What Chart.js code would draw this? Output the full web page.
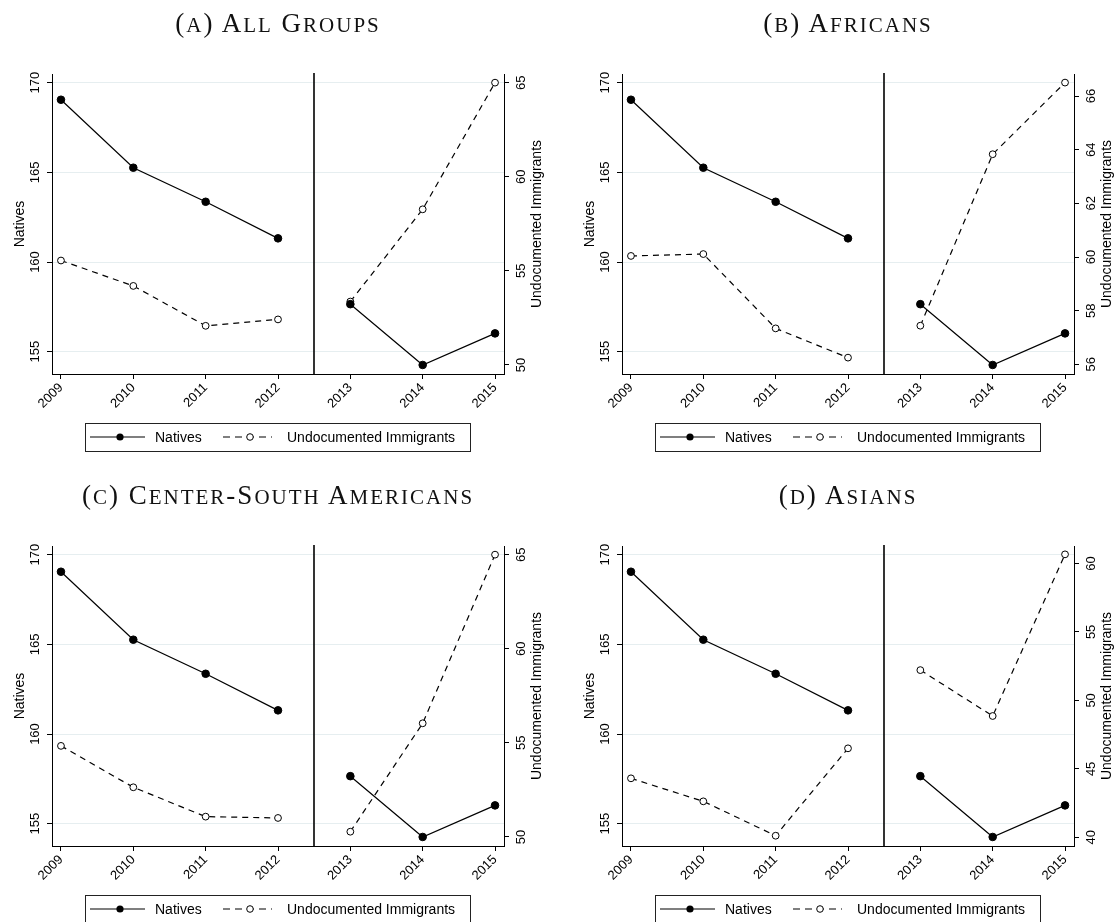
<!DOCTYPE html>
<html><head><meta charset="utf-8">
<script src="https://cdn.jsdelivr.net/npm/chart.js@4.4.1/dist/chart.umd.min.js"></script>
<style>
html,body{margin:0;padding:0;background:#fff;width:1115px;height:922px;overflow:hidden;}
.panel{position:absolute;width:550px;height:460px;}
.panel canvas{position:absolute;left:0;top:0;}
.title{position:absolute;top:10px;left:0;width:556px;text-align:center;font-family:"Liberation Serif","Times New Roman",serif;font-size:27px;line-height:27px;letter-spacing:2px;color:#111;white-space:nowrap;}
.title .sc{font-size:21px;}
</style></head><body>
<div class="panel" id="pA" style="left:0;top:0"></div>
<div class="panel" id="pB" style="left:570px;top:0"></div>
<div class="panel" id="pC" style="left:0;top:472px"></div>
<div class="panel" id="pD" style="left:570px;top:472px"></div>
<script>
// ---- data ----
const years = [2009, 2010, 2011, 2012, 2013, 2014, 2015];
const natives = [169.05, 165.26, 163.36, 161.32, 157.65, 154.26, 156.02];
const undocAll = [55.55, 54.20, 52.08, 52.42, 53.37, 58.27, 65.00];
const undocAfricans = [60.04, 60.11, 57.34, 56.25, 57.44, 63.83, 66.50];
const undocCenterSouth = [54.84, 52.64, 51.08, 51.01, 50.28, 56.04, 65.00];
const undocAsians = [44.31, 42.63, 40.12, 46.50, 52.21, 48.86, 60.66];
const nativesTicks = [155, 160, 165, 170];
const ticksAll = [50, 55, 60, 65];
const ticksAfricans = [56, 58, 60, 62, 64, 66];
const ticksCenterSouth = [50, 55, 60, 65];
const ticksAsians = [40, 45, 50, 55, 60];
const titles = ["(a) All Groups", "(b) Africans", "(c) Center-South Americans", "(d) Asians"];
const leftTitle = "Natives";
const rightTitle = "Undocumented Immigrants";
const breakYear = 2012.5;

// ---- layout ----
const W = 550, H = 460;
const AREA = {left: 52, right: 504, top: 74, bottom: 374};
const xRange = [2008.876, 2015.124];
const nativesRange = [153.756, 170.485];
const SANS = '"Liberation Sans", Arial, sans-serif';

function buildTitle(el, txt) {
  const d = document.createElement('div');
  d.className = 'title';
  for (const ch of txt) {
    if (ch >= 'a' && ch <= 'z') {
      const s = document.createElement('span');
      s.className = 'sc';
      s.textContent = ch.toUpperCase();
      d.appendChild(s);
    } else {
      d.appendChild(document.createTextNode(ch));
    }
  }
  el.appendChild(d);
}

const decor = {
  id: 'decor',
  beforeDatasetsDraw(chart) {
    const {ctx, chartArea: a, scales: {x}} = chart;
    const px = Math.round(x.getPixelForValue(breakYear));
    ctx.save();
    ctx.strokeStyle = '#000'; ctx.lineWidth = 1.6;
    ctx.beginPath(); ctx.moveTo(px, a.top - 1); ctx.lineTo(px, a.bottom); ctx.stroke();
    ctx.restore();
  },
  afterDraw(chart) {
    const {ctx, chartArea: a, scales: {y, y1}} = chart;
    ctx.save();
    ctx.fillStyle = '#000';
    ctx.textAlign = 'center'; ctx.textBaseline = 'alphabetic';
    ctx.font = '13px ' + SANS;
    y.ticks.forEach(t => {
      const py = y.getPixelForValue(t.value);
      ctx.save(); ctx.translate(a.left - 13, py); ctx.rotate(-Math.PI / 2);
      ctx.fillText(String(t.value), 0, 0); ctx.restore();
    });
    y1.ticks.forEach(t => {
      const py = y1.getPixelForValue(t.value);
      ctx.save(); ctx.translate(a.right + 21, py); ctx.rotate(-Math.PI / 2);
      ctx.fillText(String(t.value), 0, 0); ctx.restore();
    });
    ctx.font = '14px ' + SANS;
    const cy = (a.top + a.bottom) / 2;
    ctx.save(); ctx.translate(a.left - 28, cy); ctx.rotate(-Math.PI / 2);
    ctx.fillText(leftTitle, 0, 0); ctx.restore();
    ctx.save(); ctx.translate(a.right + 37, cy); ctx.rotate(-Math.PI / 2);
    ctx.fillText(rightTitle, 0, 0); ctx.restore();

    // legend
    const cx = (a.left + a.right) / 2;
    const by0 = a.bottom + 49, by1 = a.bottom + 77, ly = a.bottom + 63;
    ctx.strokeStyle = '#222'; ctx.lineWidth = 1;
    ctx.strokeRect(Math.round(cx - 193) + 0.5, by0 + 0.5, 385, by1 - by0);
    ctx.strokeStyle = '#000'; ctx.lineWidth = 1.2;
    ctx.beginPath(); ctx.moveTo(cx - 188, ly); ctx.lineTo(cx - 133, ly); ctx.stroke();
    ctx.beginPath(); ctx.arc(cx - 158, ly, 3.6, 0, Math.PI * 2); ctx.fillStyle = '#000'; ctx.fill();
    ctx.setLineDash([7, 5]);
    ctx.beginPath(); ctx.moveTo(cx - 55, ly); ctx.lineTo(cx - 6, ly); ctx.stroke();
    ctx.setLineDash([]);
    ctx.lineWidth = 1;
    ctx.beginPath(); ctx.arc(cx - 28, ly, 3.3, 0, Math.PI * 2); ctx.fillStyle = '#fff'; ctx.fill(); ctx.stroke();
    ctx.fillStyle = '#000'; ctx.textAlign = 'left';
    ctx.font = '14px ' + SANS;
    ctx.fillText('Natives', cx - 123, ly + 5);
    ctx.fillText('Undocumented Immigrants', cx + 9, ly + 5);
    ctx.restore();
  }
};

function makePanel(id, title, undoc, rightRange, rightTicks) {
  const el = document.getElementById(id);
  const cv = document.createElement('canvas');
  cv.width = W; cv.height = H;
  cv.style.width = W + 'px'; cv.style.height = H + 'px';
  el.appendChild(cv);
  buildTitle(el, title);
  const gapSeg = c => c.p0DataIndex === 3 ? 'rgba(0,0,0,0)' : '#000';
  new Chart(cv, {
    type: 'line',
    data: {
      datasets: [
        {
          label: 'Natives', yAxisID: 'y',
          data: years.map((x, i) => ({x, y: natives[i]})),
          borderColor: '#000', borderWidth: 1.2, tension: 0, fill: false,
          pointRadius: 3.8, pointBackgroundColor: '#000', pointBorderColor: '#000', pointBorderWidth: 1,
          segment: {borderColor: gapSeg}
        },
        {
          label: 'Undocumented Immigrants', yAxisID: 'y1',
          data: years.map((x, i) => ({x, y: undoc[i]})),
          borderColor: '#000', borderWidth: 1.2, borderDash: [6, 5], tension: 0, fill: false,
          pointRadius: 3.4, pointBackgroundColor: '#fff', pointBorderColor: '#000', pointBorderWidth: 1,
          segment: {borderColor: gapSeg}
        }
      ]
    },
    options: {
      responsive: false, animation: false, devicePixelRatio: 1,
      layout: {padding: {top: AREA.top, left: 0, right: 0, bottom: 0}},
      plugins: {legend: {display: false}, tooltip: {enabled: false}, title: {display: false}},
      events: [],
      scales: {
        x: {
          type: 'linear', min: xRange[0], max: xRange[1],
          afterBuildTicks: s => { s.ticks = years.map(v => ({value: v})); },
          afterFit: s => { s.height = H - AREA.bottom; },
          grid: {drawOnChartArea: false, drawTicks: true, tickLength: 5, tickColor: '#000', tickWidth: 1},
          border: {display: true, color: '#000', width: 1},
          ticks: {autoSkip: false, minRotation: 45, maxRotation: 45, padding: 1, color: '#000',
                  font: {family: SANS, size: 13}, callback: v => String(v)}
        },
        y: {
          position: 'left', min: nativesRange[0], max: nativesRange[1],
          afterBuildTicks: s => { s.ticks = nativesTicks.map(v => ({value: v})); },
          afterFit: s => { s.width = AREA.left; },
          grid: {color: '#e6eef0', lineWidth: 1, drawTicks: true, tickLength: 5, tickColor: '#000', tickWidth: 1},
          border: {display: true, color: '#000', width: 1},
          ticks: {display: false}
        },
        y1: {
          position: 'right', min: rightRange[0], max: rightRange[1],
          afterBuildTicks: s => { s.ticks = rightTicks.map(v => ({value: v})); },
          afterFit: s => { s.width = W - AREA.right; },
          grid: {drawOnChartArea: false, drawTicks: true, tickLength: 5, tickColor: '#000', tickWidth: 1},
          border: {display: true, color: '#000', width: 1},
          ticks: {display: false}
        }
      }
    },
    plugins: [decor]
  });
}

makePanel('pA', titles[0], undocAll, [49.52, 65.46], ticksAll);
makePanel('pB', titles[1], undocAfricans, [55.64, 66.82], ticksAfricans);
makePanel('pC', titles[2], undocCenterSouth, [49.52, 65.46], ticksCenterSouth);
makePanel('pD', titles[3], undocAsians, [39.37, 61.27], ticksAsians);
</script>
</body></html>
